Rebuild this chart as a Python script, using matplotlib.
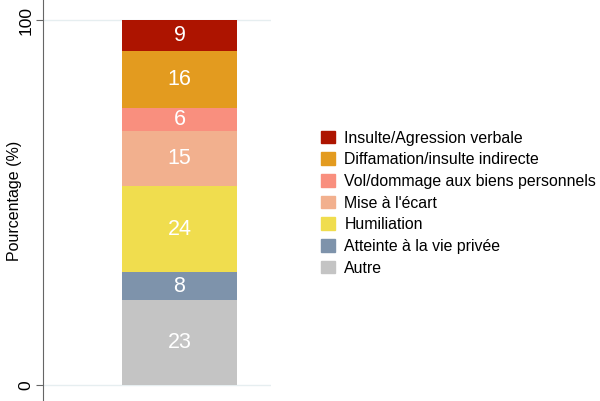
import matplotlib.pyplot as plt
from matplotlib.patches import Patch

plt.rcParams['font.family'] = ['Liberation Sans', 'DejaVu Sans']

categories = ["Autre", "Atteinte à la vie privée", "Humiliation", "Mise à l'écart",
              "Vol/dommage aux biens personnels", "Diffamation/insulte indirecte",
              "Insulte/Agression verbale"]
values = [23.2, 7.7, 23.6, 15.1, 6.3, 15.6, 8.5]
labels = ["23", "8", "24", "15", "6", "16", "9"]
colors = ["#c4c4c4", "#7e93ab", "#f0dd4e", "#f2b08e", "#f98f7e", "#e39b1f", "#ad1400"]

fig = plt.figure(figsize=(6, 4.01), dpi=100)
ax = fig.add_axes([43/600, 0, 228/600, 1])

bottom = 0
for cat, v, lab, c in zip(categories, values, labels, colors):
    ax.bar(0, v, width=1, bottom=bottom, color=c, label=cat, zorder=2)
    ax.text(0, bottom + v / 2, lab, ha="center", va="center", color="white", fontsize=15.5)
    bottom += v

ax.set_xlim(-1.187, 0.796)
ax.set_ylim(-4.4, 105.5)
ax.set_yticks([0, 100])
ax.set_yticklabels(["0", "100"], rotation=90, va="center", fontsize=12.5)
ax.set_xticks([])
for y in [0, 100]:
    ax.axhline(y, color="#e6eef0", lw=1, zorder=1)
for s in ["top", "right", "bottom"]:
    ax.spines[s].set_visible(False)
ax.spines["left"].set_color("#666666")
ax.tick_params(axis="y", color="#666666", length=5, pad=2)
ax.set_ylabel("Pourcentage (%)", fontsize=11.5)
ax.yaxis.set_label_coords(-0.092, 0.5)

handles = [Patch(color=c, label=cat) for cat, c in zip(categories, colors)][::-1]
fig.legend(handles=handles, loc="upper left", bbox_to_anchor=(0.525, 0.69),
           frameon=False, fontsize=11.4, handlelength=0.85, handleheight=0.85,
           handletextpad=0.6, labelspacing=0.42, borderaxespad=0)

fig.savefig("out.png", dpi=100)
